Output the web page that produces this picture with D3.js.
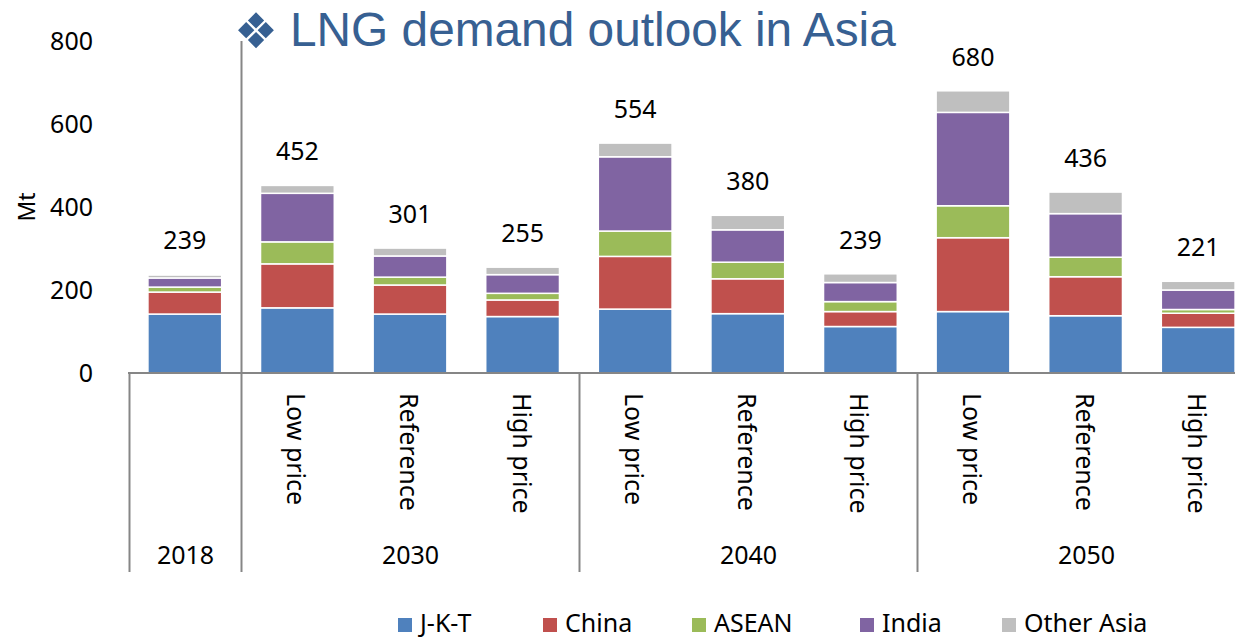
<!DOCTYPE html>
<html>
<head>
<meta charset="utf-8">
<script src="https://cdnjs.cloudflare.com/ajax/libs/d3/7.8.5/d3.min.js"></script>
<style>
  body { margin: 0; background: #fff; overflow: hidden; }
  text { font-family: "Noto Sans", "Open Sans", sans-serif; fill: #000; }
</style>
</head>
<body>
<div id="chart"></div>
<script>
  // values, in Mt
  let scenarios = ["", "Low price", "Reference", "High price", "Low price", "Reference", "High price", "Low price", "Reference", "High price"];
  let years = ["2018", "2030", "2040", "2050"];
  let yearSpans = [[0, 1], [1, 4], [4, 7], [7, 10]];
  let totals = [239, 452, 301, 255, 554, 380, 239, 680, 436, 221];
  let seriesNames = ["J-K-T", "China", "ASEAN", "India", "Other Asia"];
  let jkt = [142, 157, 142, 136, 154, 143, 112, 148, 138, 110];
  let china = [53, 106, 70, 40, 127, 84, 36, 178, 94, 34];
  let asean = [12, 53, 19, 16, 61, 40, 24, 77, 47, 9];
  let india = [22, 117, 51, 45, 179, 78, 46, 225, 105, 47];
  let otherAsia = [7, 19, 19, 18, 33, 35, 21, 52, 52, 21];
  let colors = ["#4f81bd", "#c0504d", "#9bbb59", "#8064a2", "#bfbfbf"];
  let yTicks = [0, 200, 400, 600, 800];

  let width = 1235;
  let height = 640;
  let axisColor = "#868686";
  let labelSize = "25px";

  let svg = d3.select("#chart").append("svg")
    .attr("width", width)
    .attr("height", height)
    .style("display", "block");

  // the last band runs past the right edge, same as the reference
  let x = d3.scaleBand().domain(d3.range(10)).range([128.5, 1254.5]).paddingInner(0.345).paddingOuter(0.1725);
  let y = d3.scaleLinear().domain([0, 800]).range([373, 41]);

  // stack the series
  let rows = d3.range(10).map(function(i) {
    return { "J-K-T": jkt[i], "China": china[i], "ASEAN": asean[i], "India": india[i], "Other Asia": otherAsia[i] };
  });
  let stacked = d3.stack().keys(seriesNames)(rows);

  svg.append("g").selectAll("g")
    .data(stacked)
    .enter().append("g")
    .attr("fill", function(d, i) { return colors[i]; })
    .selectAll("rect")
    .data(function(d) { return d; })
    .enter().append("rect")
    .attr("x", function(d, i) { return x(i); })
    .attr("y", function(d) { return y(d[1]); })
    .attr("width", x.bandwidth())
    .attr("height", function(d) { return y(d[0]) - y(d[1]); })
    .attr("stroke", "#fff")
    .attr("stroke-width", 1.5);

  // y axis: labels only
  let yAxis = svg.append("g")
    .attr("transform", "translate(100,0)")
    .call(d3.axisLeft(y).tickValues(yTicks).tickSize(0).tickPadding(7));
  yAxis.select(".domain").remove();
  yAxis.selectAll("text")
    .style("font-size", labelSize)
    .style("font-family", '"Noto Sans", sans-serif');

  svg.append("text")
    .attr("transform", "translate(35,207) rotate(-90)")
    .attr("text-anchor", "middle")
    .style("font-size", "23px")
    .text("Mt");

  // category axis lines
  let step = x.step();
  let edge = function(i) { return Math.round(128.5 + i * step) + 0.5; };
  svg.append("line")
    .attr("x1", 128).attr("x2", width)
    .attr("y1", 373).attr("y2", 373)
    .attr("stroke", axisColor).attr("stroke-width", 2);
  svg.selectAll(".sep")
    .data([0, 1, 4, 7])
    .enter().append("line")
    .attr("class", "sep")
    .attr("x1", edge).attr("x2", edge)
    .attr("y1", 373).attr("y2", 572)
    .attr("stroke", axisColor).attr("stroke-width", 2);
  svg.append("line")
    .attr("x1", edge(1)).attr("x2", edge(1))
    .attr("y1", 41).attr("y2", 373)
    .attr("stroke", axisColor).attr("stroke-width", 2);

  // totals above the bars
  svg.selectAll(".total")
    .data(totals)
    .enter().append("text")
    .attr("class", "total")
    .attr("x", function(d, i) { return x(i) + x.bandwidth() / 2; })
    .attr("y", function(d) { return y(d) - 25; })
    .attr("text-anchor", "middle")
    .style("font-size", labelSize)
    .text(function(d) { return d; });

  // rotated scenario labels
  svg.selectAll(".scenario")
    .data(scenarios)
    .enter().append("text")
    .attr("class", "scenario")
    .attr("transform", function(d, i) {
      return "translate(" + (x(i) + x.bandwidth() / 2 - 10) + ",393) rotate(90)";
    })
    .style("font-size", labelSize)
    .text(function(d) { return d; });

  // year labels
  svg.selectAll(".year")
    .data(years)
    .enter().append("text")
    .attr("class", "year")
    .attr("x", function(d, i) { return (edge(yearSpans[i][0]) + edge(yearSpans[i][1])) / 2; })
    .attr("y", 564)
    .attr("text-anchor", "middle")
    .style("font-size", labelSize)
    .text(function(d) { return d; });

  // legend, moved up a little so the text box stays on the page
  let legendX = [398, 543, 692, 860, 1002];
  let legend = svg.selectAll(".legendItem")
    .data(seriesNames)
    .enter().append("g")
    .attr("class", "legendItem")
    .attr("transform", function(d, i) { return "translate(" + legendX[i] + ",618)"; });
  legend.append("rect")
    .attr("width", 14).attr("height", 14)
    .attr("fill", function(d, i) { return colors[i]; });
  legend.append("text")
    .attr("x", 22).attr("y", 14)
    .style("font-size", labelSize)
    .text(function(d) { return d; });

  // title
  svg.append("text")
    .attr("x", 234).attr("y", 48)
    .style("font-family", '"DejaVu Sans", sans-serif')
    .style("font-size", "49px")
    .style("fill", "#376092")
    .text("\u2756");
  svg.append("text")
    .attr("x", 290).attr("y", 46)
    .style("font-family", '"Liberation Sans", Arial, sans-serif')
    .style("font-size", "47.8px")
    .style("fill", "#376092")
    .text("LNG demand outlook in Asia");
</script>
</body>
</html>
